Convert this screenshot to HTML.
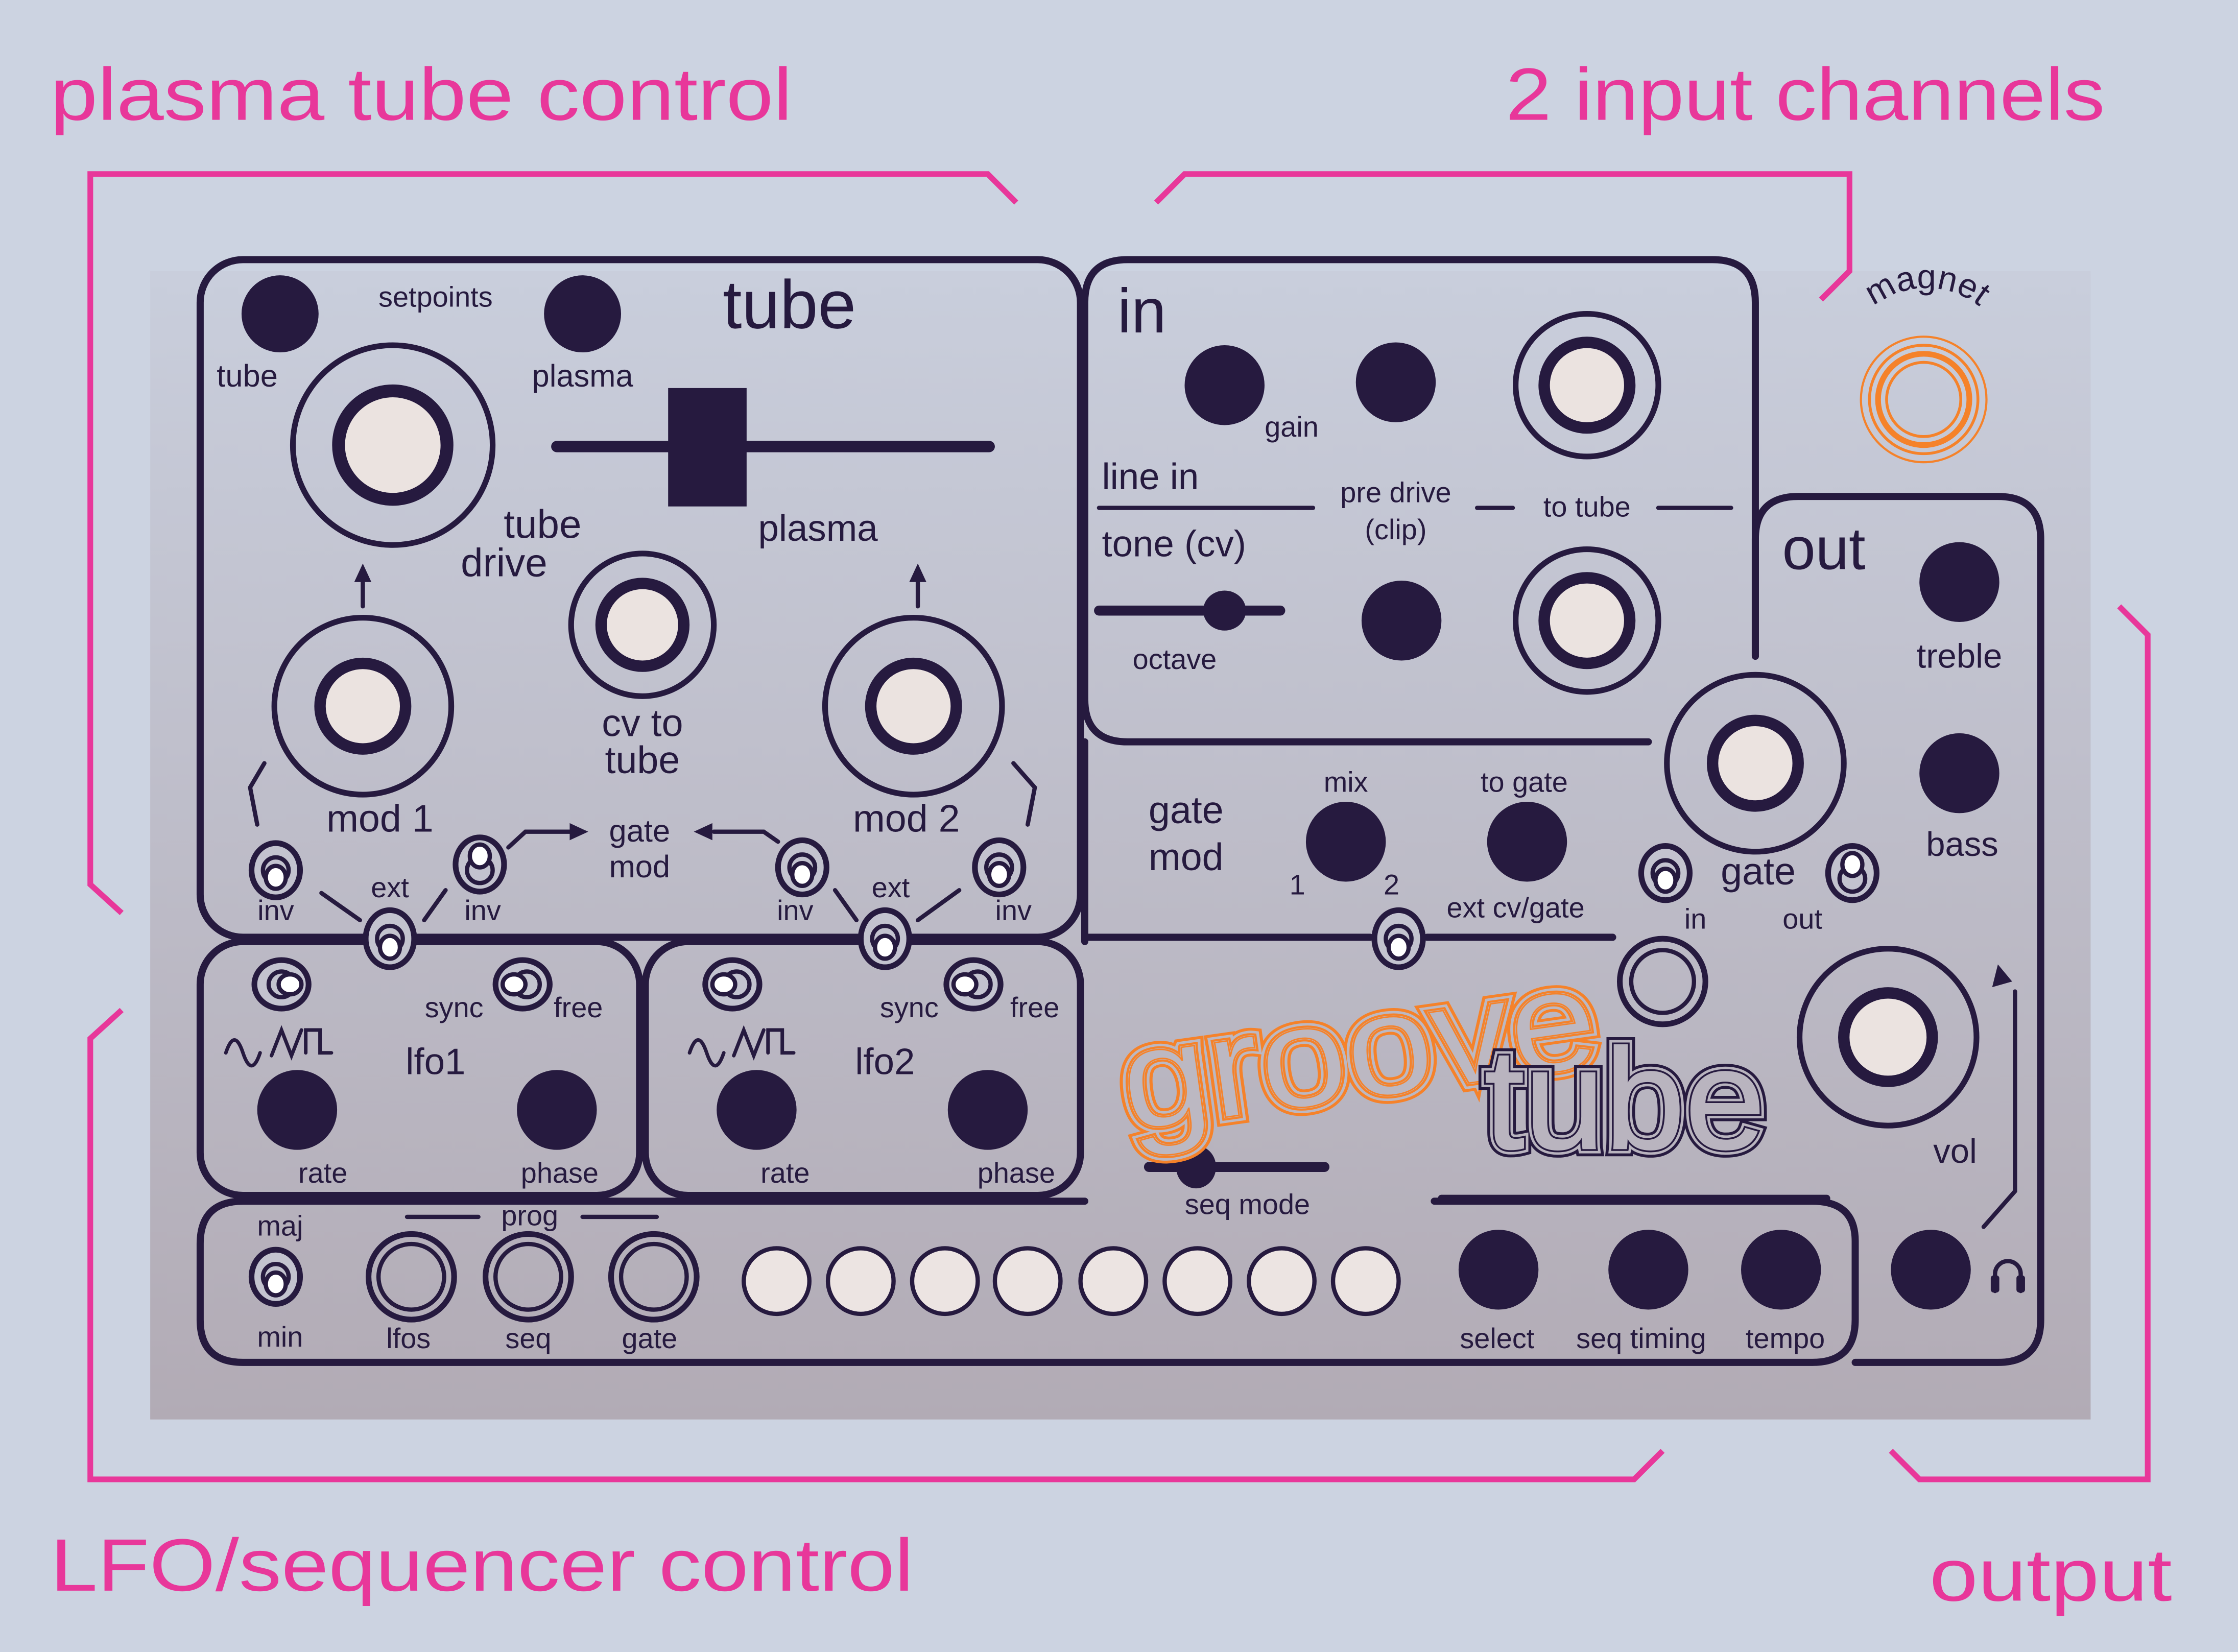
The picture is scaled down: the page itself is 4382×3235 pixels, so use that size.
<!DOCTYPE html>
<html><head><meta charset="utf-8"><style>
html,body{margin:0;padding:0;background:#ccd3e1}
svg{display:block}
text{font-family:"Liberation Sans","DejaVu Sans",sans-serif;fill:#261a3f}
</style></head><body>
<svg width="4382" height="3235" viewBox="0 0 1568 1158" xmlns="http://www.w3.org/2000/svg">
<defs>
<linearGradient id="pg" x1="0" y1="0" x2="0" y2="1">
<stop offset="0" stop-color="#c9cedc"/><stop offset="1" stop-color="#b2abb5"/>
</linearGradient>
</defs>
<rect width="1568" height="1158" fill="#ccd3e1"/>
<rect x="105" y="190" width="1360" height="805" fill="url(#pg)"/>

<!-- pink titles -->
<g font-size="52">
<text x="35" y="84" textLength="520" lengthAdjust="spacingAndGlyphs" style="fill:#e8379a">plasma tube control</text>
<text x="1055" y="84" textLength="420" lengthAdjust="spacingAndGlyphs" style="fill:#e8379a">2 input channels</text>
<text x="35" y="1115" textLength="605" lengthAdjust="spacingAndGlyphs" style="fill:#e8379a">LFO/sequencer control</text>
<text x="1352" y="1122" textLength="170" lengthAdjust="spacingAndGlyphs" style="fill:#e8379a">output</text>
</g>
<g fill="none" stroke="#e8379a" stroke-width="4">
<polyline points="85,640 63,620 63,122 692,122 712,142"/>
<polyline points="810,142 830,122 1296,122 1296,190 1276,210"/>
<polyline points="85,708 63,728 63,1037 1145,1037 1165,1017"/>
<polyline points="1485,425 1505,445 1505,1037 1345,1037 1325,1017"/>
</g>

<!-- panel outlines -->
<g fill="none" stroke="#261a3f" stroke-width="5" stroke-linecap="round">
<rect x="140" y="182" width="617" height="475" rx="30"/>
<path d="M760,490 V212 Q760,182 790,182 H1200 Q1230,182 1230,212 V460"/>
<path d="M760,490 Q760,520 790,520 H1155"/>
<path d="M760,520 V660"/>
<rect x="140" y="660" width="308" height="178" rx="30"/>
<rect x="452" y="660" width="305" height="178" rx="30"/>
<path d="M760,842 H170 Q140,842 140,872 V925 Q140,955 170,955 H1270 Q1300,955 1300,925 V870 Q1300,842 1270,842 H1005"/>
<path d="M1230,460 V378 Q1230,348 1260,348 H1400 Q1430,348 1430,378 V925 Q1430,955 1400,955 H1300"/>
<path d="M760,657 H960 M1000,657 H1130"/>
</g>

<!-- big jacks -->
<g stroke="#261a3f" fill="#ebe3e0">
<circle cx="275" cy="312" r="70" fill="none" stroke-width="4"/><circle cx="275" cy="312" r="38" stroke-width="9"/>
<circle cx="254" cy="495" r="62" fill="none" stroke-width="4"/><circle cx="254" cy="495" r="30" stroke-width="8"/>
<circle cx="450" cy="438" r="50" fill="none" stroke-width="4"/><circle cx="450" cy="438" r="29" stroke-width="8"/>
<circle cx="640" cy="495" r="62" fill="none" stroke-width="4"/><circle cx="640" cy="495" r="30" stroke-width="8"/>
<circle cx="1112" cy="270" r="50" fill="none" stroke-width="4"/><circle cx="1112" cy="270" r="30" stroke-width="8"/>
<circle cx="1112" cy="435" r="50" fill="none" stroke-width="4"/><circle cx="1112" cy="435" r="30" stroke-width="8"/>
<circle cx="1230" cy="535" r="62" fill="none" stroke-width="4"/><circle cx="1230" cy="535" r="30" stroke-width="8"/>
<circle cx="1323" cy="727" r="62" fill="none" stroke-width="4"/><circle cx="1323" cy="727" r="31" stroke-width="8"/>
<circle cx="1165" cy="688" r="30" fill="none" stroke-width="4"/><circle cx="1165" cy="688" r="22" fill="none" stroke-width="3"/>
<circle cx="288" cy="895" r="30" fill="none" stroke-width="4"/><circle cx="288" cy="895" r="23" fill="none" stroke-width="3"/>
<circle cx="370" cy="895" r="30" fill="none" stroke-width="4"/><circle cx="370" cy="895" r="23" fill="none" stroke-width="3"/>
<circle cx="458" cy="895" r="30" fill="none" stroke-width="4"/><circle cx="458" cy="895" r="23" fill="none" stroke-width="3"/>
</g>
<!-- cream buttons -->
<g fill="#ece4e2" stroke="#261a3f" stroke-width="3">
<circle cx="544" cy="898" r="23"/><circle cx="603" cy="898" r="23"/><circle cx="662" cy="898" r="23"/><circle cx="720" cy="898" r="23"/>
<circle cx="780" cy="898" r="23"/><circle cx="839" cy="898" r="23"/><circle cx="898" cy="898" r="23"/><circle cx="957" cy="898" r="23"/>
</g>
<!-- dark knobs -->
<g fill="#261a3f">
<circle cx="196" cy="220" r="27"/><circle cx="408" cy="220" r="27"/>
<circle cx="858" cy="270" r="28"/><circle cx="978" cy="268" r="28"/><circle cx="982" cy="435" r="28"/>
<circle cx="1373" cy="408" r="28"/><circle cx="1373" cy="542" r="28"/>
<circle cx="943" cy="590" r="28"/><circle cx="1070" cy="590" r="28"/>
<circle cx="208" cy="778" r="28"/><circle cx="390" cy="778" r="28"/><circle cx="530" cy="778" r="28"/><circle cx="692" cy="778" r="28"/>
<circle cx="1050" cy="890" r="28"/><circle cx="1155" cy="890" r="28"/><circle cx="1248" cy="890" r="28"/><circle cx="1353" cy="890" r="28"/>
<rect x="468" y="272" width="55" height="83"/>
<ellipse cx="858" cy="428" rx="15" ry="14"/>
<ellipse cx="838" cy="818" rx="14" ry="15"/>
</g>
<g stroke="#261a3f" fill="none" stroke-linecap="round">
<line x1="390" y1="313" x2="693" y2="313" stroke-width="8"/>
<line x1="770" y1="428" x2="897" y2="428" stroke-width="7"/>
<line x1="805" y1="818" x2="928" y2="818" stroke-width="7"/>
<line x1="770" y1="356" x2="920" y2="356" stroke-width="3"/>
<line x1="1035" y1="356" x2="1060" y2="356" stroke-width="3"/>
<line x1="1162" y1="356" x2="1213" y2="356" stroke-width="3"/>
<line x1="285" y1="853" x2="335" y2="853" stroke-width="3"/>
<line x1="408" y1="853" x2="460" y2="853" stroke-width="3"/>
<line x1="254" y1="425" x2="254" y2="405" stroke-width="3"/>
<line x1="643" y1="425" x2="643" y2="405" stroke-width="3"/>
<polyline points="185,535 175,552 180,578" stroke-width="3"/>
<polyline points="710,535 725,552 720,578" stroke-width="3"/>
<line x1="225" y1="626" x2="252" y2="645" stroke-width="3"/>
<line x1="297" y1="645" x2="312" y2="624" stroke-width="3"/>
<line x1="585" y1="624" x2="600" y2="645" stroke-width="3"/>
<line x1="643" y1="645" x2="672" y2="624" stroke-width="3"/>
<polyline points="356,594 368,583 400,583" stroke-width="3"/>
<polyline points="545,590 535,583 500,583" stroke-width="3"/>
<polyline points="1390,860 1412,835 1412,695" stroke-width="3"/>
<path d="M1010,840 H1280" stroke-width="5"/>
<path d="M1398,905 V893 A9,9 0 0 1 1416,893 V905" stroke-width="3"/>
<path d="M158,738 q6,-18 12,0 q6,18 12,0" stroke-width="2.5"/>
<path d="M190,740 l7,-18 l7,18 l7,-18" stroke-width="2.5"/>
<path d="M214,738 v-16 h10 v16 h8" stroke-width="2.5"/>
<path d="M483,738 q6,-18 12,0 q6,18 12,0" stroke-width="2.5"/>
<path d="M514,740 l7,-18 l7,18 l7,-18" stroke-width="2.5"/>
<path d="M538,738 v-16 h10 v16 h8" stroke-width="2.5"/>
</g>
<g fill="#261a3f">
<polygon points="254,395 248,408 260,408"/>
<polygon points="643,395 637,408 649,408"/>
<polygon points="412,583 399,577 399,589"/>
<polygon points="486,583 499,577 499,589"/>
<polygon points="1400,676 1396,692 1410,688"/>
<rect x="1395" y="894" width="6" height="12" rx="2"/><rect x="1413" y="894" width="6" height="12" rx="2"/>
</g>

<!-- toggles -->
<g stroke="#261a3f" fill="#c3c3cf">
<g transform="translate(193,610)"><ellipse rx="17" ry="19" stroke-width="4"/><ellipse cy="0" rx="9" ry="9" fill="none" stroke-width="3"/><ellipse cy="5" rx="7" ry="8" fill="#fff" stroke-width="3"/></g>
<g transform="translate(336,606)"><ellipse rx="17" ry="19" stroke-width="4"/><ellipse cy="4" rx="9" ry="9" fill="none" stroke-width="3"/><ellipse cy="-6" rx="7" ry="8" fill="#fff" stroke-width="3"/></g>
<g transform="translate(273,658)"><ellipse rx="17" ry="20" stroke-width="4"/><ellipse cy="0" rx="9" ry="9" fill="none" stroke-width="3"/><ellipse cy="6" rx="7" ry="8" fill="#fff" stroke-width="3"/></g>
<g transform="translate(562,608)"><ellipse rx="17" ry="19" stroke-width="4"/><ellipse cy="0" rx="9" ry="9" fill="none" stroke-width="3"/><ellipse cy="5" rx="7" ry="8" fill="#fff" stroke-width="3"/></g>
<g transform="translate(620,658)"><ellipse rx="17" ry="20" stroke-width="4"/><ellipse cy="0" rx="9" ry="9" fill="none" stroke-width="3"/><ellipse cy="6" rx="7" ry="8" fill="#fff" stroke-width="3"/></g>
<g transform="translate(700,608)"><ellipse rx="17" ry="19" stroke-width="4"/><ellipse cy="0" rx="9" ry="9" fill="none" stroke-width="3"/><ellipse cy="5" rx="7" ry="8" fill="#fff" stroke-width="3"/></g>
<g transform="translate(980,658)"><ellipse rx="17" ry="20" stroke-width="4"/><ellipse cy="0" rx="9" ry="9" fill="none" stroke-width="3"/><ellipse cy="6" rx="7" ry="8" fill="#fff" stroke-width="3"/></g>
<g transform="translate(1167,612)"><ellipse rx="17" ry="19" stroke-width="4"/><ellipse cy="0" rx="9" ry="9" fill="none" stroke-width="3"/><ellipse cy="5" rx="7" ry="8" fill="#fff" stroke-width="3"/></g>
<g transform="translate(1298,612)"><ellipse rx="17" ry="19" stroke-width="4"/><ellipse cy="4" rx="9" ry="9" fill="none" stroke-width="3"/><ellipse cy="-6" rx="7" ry="8" fill="#fff" stroke-width="3"/></g>
<g transform="translate(193,895)"><ellipse rx="17" ry="19" stroke-width="4"/><ellipse cy="0" rx="9" ry="9" fill="none" stroke-width="3"/><ellipse cy="5" rx="7" ry="8" fill="#fff" stroke-width="3"/></g>
<g transform="translate(197,690)"><ellipse rx="19" ry="17" stroke-width="4"/><ellipse cx="0" rx="9" ry="9" fill="none" stroke-width="3"/><ellipse cx="6" rx="8" ry="7" fill="#fff" stroke-width="3"/></g>
<g transform="translate(366,690)"><ellipse rx="19" ry="17" stroke-width="4"/><ellipse cx="3" rx="9" ry="9" fill="none" stroke-width="3"/><ellipse cx="-6" rx="8" ry="7" fill="#fff" stroke-width="3"/></g>
<g transform="translate(513,690)"><ellipse rx="19" ry="17" stroke-width="4"/><ellipse cx="3" rx="9" ry="9" fill="none" stroke-width="3"/><ellipse cx="-6" rx="8" ry="7" fill="#fff" stroke-width="3"/></g>
<g transform="translate(682,690)"><ellipse rx="19" ry="17" stroke-width="4"/><ellipse cx="3" rx="9" ry="9" fill="none" stroke-width="3"/><ellipse cx="-6" rx="8" ry="7" fill="#fff" stroke-width="3"/></g>
</g>

<!-- labels -->
<g font-size="20" text-anchor="middle">
<text x="305" y="215">setpoints</text>
<text x="173" y="271" font-size="22">tube</text>
<text x="408" y="271" font-size="22">plasma</text>
<text x="553" y="230" font-size="48">tube</text>
<text x="380" y="377" font-size="28">tube</text>
<text x="353" y="404" font-size="28">drive</text>
<text x="573" y="379" font-size="26">plasma</text>
<text x="450" y="516" font-size="27">cv to</text>
<text x="450" y="542" font-size="27">tube</text>
<text x="266" y="583" font-size="27">mod 1</text>
<text x="635" y="583" font-size="27">mod 2</text>
<text x="448" y="590" font-size="22">gate</text>
<text x="448" y="615" font-size="22">mod</text>
<text x="193" y="645">inv</text>
<text x="273" y="629">ext</text>
<text x="338" y="645">inv</text>
<text x="557" y="645">inv</text>
<text x="624" y="629">ext</text>
<text x="710" y="645">inv</text>
<text x="800" y="233" font-size="44">in</text>
<text x="905" y="306">gain</text>
<text x="978" y="352">pre drive</text>
<text x="978" y="378">(clip)</text>
<text x="1112" y="362">to tube</text>
<text x="823" y="469">octave</text>
<text x="1278" y="399" font-size="42">out</text>
<text x="1373" y="468" font-size="24">treble</text>
<text x="1375" y="600" font-size="24">bass</text>
<text x="831" y="577" font-size="27">gate</text>
<text x="831" y="610" font-size="27">mod</text>
<text x="943" y="555">mix</text>
<text x="1068" y="555">to gate</text>
<text x="909" y="627">1</text>
<text x="975" y="627">2</text>
<text x="1062" y="643">ext cv/gate</text>
<text x="1232" y="620" font-size="27">gate</text>
<text x="1188" y="651">in</text>
<text x="1263" y="651">out</text>
<text x="318" y="713">sync</text>
<text x="405" y="713">free</text>
<text x="305" y="753" font-size="26">lfo1</text>
<text x="226" y="829">rate</text>
<text x="392" y="829">phase</text>
<text x="637" y="713">sync</text>
<text x="725" y="713">free</text>
<text x="620" y="753" font-size="26">lfo2</text>
<text x="550" y="829">rate</text>
<text x="712" y="829">phase</text>
<text x="874" y="851">seq mode</text>
<text x="1370" y="815" font-size="24">vol</text>
<text x="196" y="866">maj</text>
<text x="196" y="944">min</text>
<text x="371" y="859">prog</text>
<text x="286" y="945">lfos</text>
<text x="370" y="945">seq</text>
<text x="455" y="945">gate</text>
<text x="1049" y="945">select</text>
<text x="1150" y="945">seq timing</text>
<text x="1251" y="945">tempo</text>
</g>
<g font-size="26">
<text x="772" y="343">line in</text>
<text x="772" y="390">tone (cv)</text>
</g>

<!-- magnet -->
<path id="marc" d="M1290,262 A60,60 0 0 1 1410,262" fill="none"/>
<text font-size="24" text-anchor="middle"><textPath href="#marc" startOffset="50%">magnet</textPath></text>
<g fill="none" stroke="#f5822a">
<circle cx="1348" cy="280" r="44" stroke-width="1.5"/>
<circle cx="1348" cy="280" r="38" stroke-width="2"/>
<circle cx="1348" cy="280" r="32" stroke-width="4"/>
<circle cx="1348" cy="280" r="26" stroke-width="2"/>
</g>

<!-- groove tube logo -->
<g font-size="100" transform="rotate(-8 950 740)">
<text x="785" y="770" textLength="335" lengthAdjust="spacingAndGlyphs" style="fill:none;stroke:#f5822a;stroke-width:12">groove</text>
<text x="785" y="770" textLength="335" lengthAdjust="spacingAndGlyphs" style="fill:none;stroke:#bcb8c2;stroke-width:8">groove</text>
<text x="785" y="770" textLength="335" lengthAdjust="spacingAndGlyphs" style="fill:none;stroke:#f5822a;stroke-width:4.5">groove</text>
<text x="785" y="770" textLength="335" lengthAdjust="spacingAndGlyphs" style="fill:#bcb8c2;stroke:#bcb8c2;stroke-width:1.5">groove</text>
<text x="785" y="770" textLength="335" lengthAdjust="spacingAndGlyphs" style="fill:none;stroke:#f5822a;stroke-width:1">groove</text>
</g>
<g font-size="100">
<text x="1040" y="805" textLength="197" lengthAdjust="spacingAndGlyphs" style="fill:none;stroke:#261a3f;stroke-width:11">tube</text>
<text x="1040" y="805" textLength="197" lengthAdjust="spacingAndGlyphs" style="fill:none;stroke:#b9b4bf;stroke-width:7">tube</text>
<text x="1040" y="805" textLength="197" lengthAdjust="spacingAndGlyphs" style="fill:none;stroke:#261a3f;stroke-width:3.5">tube</text>
<text x="1040" y="805" textLength="197" lengthAdjust="spacingAndGlyphs" style="fill:#b9b4bf;stroke:#b9b4bf;stroke-width:1">tube</text>
</g>
</svg>
</body></html>
